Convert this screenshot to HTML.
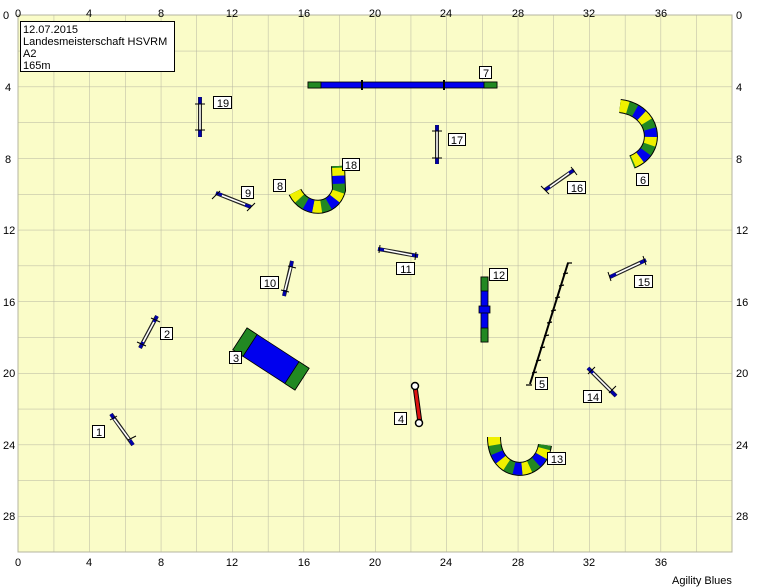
<!DOCTYPE html>
<html><head><meta charset="utf-8"><style>
body{margin:0;background:#fff;width:770px;height:587px;overflow:hidden}
svg{display:block}
text{font-family:"Liberation Sans",sans-serif;fill:#000}
</style></head><body>
<svg width="770" height="587" viewBox="0 0 770 587">
<defs>
<pattern id="g" x="18" y="15" width="35.7" height="35.8" patternUnits="userSpaceOnUse">
<path d="M0 0H35.7M0 0V35.8" stroke="#b4b4a0" stroke-width="1" fill="none"/>
</pattern>
<g id="tun"></g>
</defs>
<rect x="18" y="15" width="714" height="537" fill="#fafcc8"/>
<rect x="18" y="15" width="714" height="537" fill="url(#g)"/>
<rect x="18" y="15" width="714" height="537" fill="none" stroke="#b4b4a0"/>
<g font-size="11" text-anchor="middle">
<text x="18" y="17">0</text><text x="89" y="17">4</text><text x="161" y="17">8</text><text x="232" y="17">12</text><text x="304" y="17">16</text><text x="375" y="17">20</text><text x="446" y="17">24</text><text x="518" y="17">28</text><text x="589" y="17">32</text><text x="661" y="17">36</text>
<text x="18" y="566">0</text><text x="89" y="566">4</text><text x="161" y="566">8</text><text x="232" y="566">12</text><text x="304" y="566">16</text><text x="375" y="566">20</text><text x="446" y="566">24</text><text x="518" y="566">28</text><text x="589" y="566">32</text><text x="661" y="566">36</text>
</g>
<g font-size="11">
<text x="3" y="19">0</text><text x="5" y="91">4</text><text x="5" y="163">8</text><text x="3" y="234">12</text><text x="3" y="306">16</text><text x="3" y="377">20</text><text x="3" y="449">24</text><text x="3" y="520">28</text>
<text x="736" y="19">0</text><text x="736" y="91">4</text><text x="736" y="163">8</text><text x="736" y="234">12</text><text x="736" y="306">16</text><text x="736" y="377">20</text><text x="736" y="449">24</text><text x="736" y="520">28</text>
<text x="672" y="584">Agility Blues</text>
</g>
<rect x="20.5" y="21.5" width="154" height="50" fill="#fff" stroke="#000"/>
<g font-size="11"><text x="23" y="33">12.07.2015</text><text x="23" y="45">Landesmeisterschaft HSVRM</text><text x="23" y="57">A2</text><text x="23" y="69">165m</text></g>

<!-- dog walk 7 -->
<rect x="308" y="82" width="189" height="6" fill="#0000ee" stroke="#000" stroke-width="0.8"/>
<rect x="308" y="82" width="13" height="6" fill="#228822" stroke="#000" stroke-width="0.8"/>
<rect x="484" y="82" width="13" height="6" fill="#228822" stroke="#000" stroke-width="0.8"/>
<path d="M362 80V90M444 80V90" stroke="#000" stroke-width="2"/>
<!-- seesaw 12 -->
<rect x="481" y="277" width="7" height="65" fill="#0000ee" stroke="#000" stroke-width="0.8"/>
<rect x="481" y="277" width="7" height="14" fill="#228822" stroke="#000" stroke-width="0.8"/>
<rect x="481" y="328" width="7" height="14" fill="#228822" stroke="#000" stroke-width="0.8"/>
<rect x="479" y="306" width="11" height="7" fill="#0000ee" stroke="#000" stroke-width="0.8"/>
<!-- A-frame 3 -->
<g transform="translate(271,359) rotate(33)">
<rect x="-37" y="-13" width="74" height="26" fill="#0000ee" stroke="#000" stroke-width="0.8"/>
<rect x="-37" y="-13" width="12" height="26" fill="#228822" stroke="#000" stroke-width="0.8"/>
<rect x="25" y="-13" width="12" height="26" fill="#228822" stroke="#000" stroke-width="0.8"/>
</g>
<!-- tunnels -->
<g fill="none">
<path d="M295 192 C305 212 333 212 339 190 L338 166" stroke="#000" stroke-width="14"/>
<path d="M295 192 C305 212 333 212 339 190 L338 166" stroke="#228822" stroke-width="12"/>
<path d="M295 192 C305 212 333 212 339 190 L338 166" stroke="#f0f000" stroke-width="12" stroke-dasharray="8 16"/>
<path d="M295 192 C305 212 333 212 339 190 L338 166" stroke="#0000ee" stroke-width="12" stroke-dasharray="8 16" stroke-dashoffset="-16"/>
<path d="M620 106 C655 110 662 150 632 162" stroke="#000" stroke-width="14"/>
<path d="M620 106 C655 110 662 150 632 162" stroke="#228822" stroke-width="12"/>
<path d="M620 106 C655 110 662 150 632 162" stroke="#f0f000" stroke-width="12" stroke-dasharray="8 16"/>
<path d="M620 106 C655 110 662 150 632 162" stroke="#0000ee" stroke-width="12" stroke-dasharray="8 16" stroke-dashoffset="-16"/>
<path d="M494 437 C494 478 540 478 545 445" stroke="#000" stroke-width="14"/>
<path d="M494 437 C494 478 540 478 545 445" stroke="#228822" stroke-width="12"/>
<path d="M494 437 C494 478 540 478 545 445" stroke="#f0f000" stroke-width="12" stroke-dasharray="8 16"/>
<path d="M494 437 C494 478 540 478 545 445" stroke="#0000ee" stroke-width="12" stroke-dasharray="8 16" stroke-dashoffset="-16"/>
</g>
<!-- jumps -->
<g stroke-linecap="butt">
<g stroke="#222" stroke-width="4"><path d="M200 97L200 137M437 125L437 164M216 193L251 207M545 190L574 170M378 249L418 256M292 261L284 296M610 277L646 260M140 348L157 316M588 368L616 396M111 414L133 445"/></g>
<g stroke="#fff" stroke-width="1.6"><path d="M200 99L200 135M437 127L437 162M218 194L249 206M547 189L572 171M380 249L416 256M292 263L284 294M612 276L644 261M141 346L156 318M590 370L614 394M112 416L132 443"/></g>
<g stroke="#0000aa" stroke-width="3">
<path d="M200 97V104M200 130V137M437 125V131M437 158V164"/>
<path d="M216 193L222 195M245 205L251 207M545 190L550 187M569 173L574 170M378 249L384 250M412 255L418 256M292 261L291 267M285 290L284 296M610 277L616 274M640 263L646 260M140 348L143 342M154 322L157 316M588 368L593 373M611 391L616 396M111 414L114 419M130 440L133 445"/>
</g>
<g stroke="#000" stroke-width="1"><path d="M195 104H205M195 130H205M432 131H442M432 158H442M212 199L220 191M247 211L255 203M541 186L549 194M571 167L577 175M380 245L379 253M416 252L415 260M288 266L296 268M281 290L289 292M608 272L611 281M643 256L646 265M137 342L146 346M151 318L160 322M588 374L595 367M609 393L616 386M110 420L117 416M128 440L136 436"/></g>
</g>
<!-- weave 5 -->
<path d="M530 384L568 263" stroke="#000" stroke-width="2"/>
<g stroke="#000" stroke-width="1.2" fill="none"><path d="M526 385H532M532 373l5 -1M536 361l5 -1M540 348l5 -1M544 336l5 -1M547 323l5 -1M551 311l5 -1M555 298l5 -1M559 286l5 -1M563 274l5 -1M567 263l5 0"/></g>
<!-- 4 -->
<path d="M415 386L420 423" stroke="#000" stroke-width="5"/>
<path d="M415 386L420 423" stroke="#dd1111" stroke-width="3"/>
<circle cx="415" cy="386" r="3.5" fill="#fff" stroke="#000" stroke-width="1.5"/>
<circle cx="419" cy="423" r="3.5" fill="#fff" stroke="#000" stroke-width="1.5"/>
<!-- labels -->
<g fill="#fff" stroke="#000" stroke-width="1">
<rect x="479.5" y="66.5" width="12" height="12"/><rect x="213.5" y="96.5" width="18" height="12"/><rect x="448.5" y="133.5" width="17" height="12"/><rect x="342.5" y="158.5" width="17" height="12"/><rect x="273.5" y="179.5" width="12" height="12"/><rect x="241.5" y="186.5" width="12" height="12"/><rect x="636.5" y="173.5" width="12" height="12"/><rect x="567.5" y="181.5" width="18" height="12"/><rect x="396.5" y="262.5" width="18" height="12"/><rect x="489.5" y="268.5" width="18" height="12"/><rect x="260.5" y="276.5" width="18" height="12"/><rect x="634.5" y="275.5" width="18" height="12"/><rect x="160.5" y="327.5" width="12" height="12"/><rect x="229.5" y="351.5" width="12" height="12"/><rect x="535.5" y="377.5" width="12" height="12"/><rect x="583.5" y="390.5" width="18" height="12"/><rect x="394.5" y="412.5" width="12" height="12"/><rect x="92.5" y="425.5" width="12" height="12"/><rect x="547.5" y="452.5" width="18" height="12"/>
</g>
<g font-size="11" text-anchor="middle">
<text x="486" y="77">7</text><text x="223" y="107">19</text><text x="457" y="144">17</text><text x="351" y="169">18</text><text x="280" y="190">8</text><text x="248" y="197">9</text><text x="643" y="184">6</text><text x="577" y="192">16</text><text x="406" y="273">11</text><text x="499" y="279">12</text><text x="270" y="287">10</text><text x="644" y="286">15</text><text x="167" y="338">2</text><text x="236" y="362">3</text><text x="542" y="388">5</text><text x="593" y="401">14</text><text x="401" y="423">4</text><text x="99" y="436">1</text><text x="557" y="463">13</text>
</g>
</svg>
</body></html>
